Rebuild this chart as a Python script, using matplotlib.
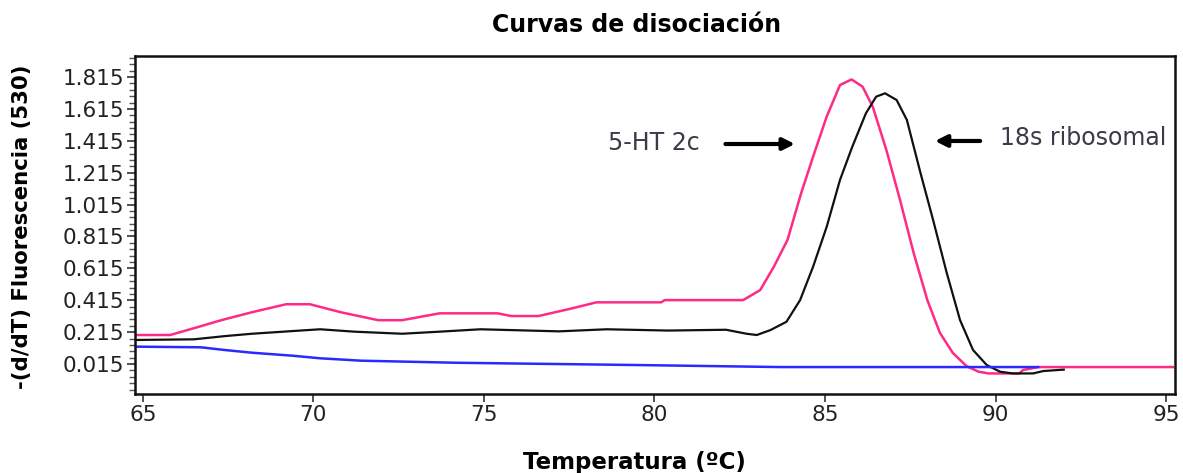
import matplotlib
matplotlib.use("Agg")
import matplotlib.pyplot as plt
from matplotlib.ticker import FixedLocator, MultipleLocator

# values
pink_t = [64.8, 65.8, 66.5, 67.3, 68.2, 69.2, 69.9, 70.8, 71.9, 72.6, 73.7, 75.4,
          75.8, 76.6, 77.5, 78.3, 80.2, 80.3, 82.6, 83.1, 83.5, 83.9, 84.3, 84.65,
          85.05, 85.44, 85.78, 86.1, 86.4, 86.8, 87.2, 87.6, 88.0, 88.37, 88.75,
          89.15, 89.5, 89.8, 90.7, 90.8, 91.25, 95.2]
pink_v = [0.197, 0.197, 0.24, 0.29, 0.34, 0.39, 0.39, 0.34, 0.29, 0.29, 0.333, 0.333,
          0.316, 0.316, 0.36, 0.402, 0.402, 0.416, 0.416, 0.479, 0.625, 0.793, 1.086,
          1.315, 1.567, 1.765, 1.80, 1.755, 1.629, 1.357, 1.044, 0.711, 0.416, 0.21,
          0.084, 0.002, -0.033, -0.044, -0.044, -0.023, -0.004, -0.004]

black_t = [64.8, 66.5, 67.4, 68.2, 69.4, 70.2, 71.2, 72.6, 73.7, 74.9, 77.2, 78.6,
           80.4, 82.1, 82.7, 83.0, 83.4, 83.87, 84.27, 84.65, 85.05, 85.44, 85.8,
           86.2, 86.5, 86.76, 87.1, 87.4, 87.8, 88.17, 88.57, 88.96, 89.34, 89.74,
           90.13, 90.5, 91.1, 91.4, 92.0]
black_v = [0.166, 0.17, 0.19, 0.205, 0.222, 0.233, 0.218, 0.205, 0.218, 0.233, 0.22,
           0.233, 0.225, 0.23, 0.205, 0.197, 0.228, 0.28, 0.416, 0.625, 0.876, 1.17,
           1.378, 1.588, 1.692, 1.713, 1.671, 1.546, 1.213, 0.918, 0.586, 0.29, 0.103,
           0.009, -0.033, -0.044, -0.044, -0.029, -0.02]

blue_t = [64.8, 66.7, 67.4, 68.2, 69.4, 70.2, 71.4, 74.2, 79.4, 83.7, 91.25]
blue_v = [0.124, 0.12, 0.103, 0.086, 0.067, 0.051, 0.036, 0.023, 0.009, -0.004, -0.004]

x_ticks = [65, 70, 75, 80, 85, 90, 95]
y_ticks = [0.015, 0.215, 0.415, 0.615, 0.815, 1.015, 1.215, 1.415, 1.615, 1.815]

plt.rcParams["font.family"] = ["DejaVu Sans"]

fig = plt.figure(figsize=(11.83, 4.73), dpi=100)
ax = fig.add_axes([0.1141, 0.167, 0.8791, 0.7146])

ax.plot(pink_t, pink_v, color="#ff2a85", lw=1.8)
ax.plot(black_t, black_v, color="#111111", lw=1.6)
ax.plot(blue_t, blue_v, color="#2a2aff", lw=1.8)

ax.set_xlim(64.77, 95.26)
ax.set_ylim(-0.173, 1.947)
ax.xaxis.set_major_locator(FixedLocator(x_ticks))
ax.set_xticklabels([str(t) for t in x_ticks])
ax.yaxis.set_major_locator(FixedLocator(y_ticks))
ax.set_yticklabels([f"{v:.3f}" for v in y_ticks])
ax.yaxis.set_minor_locator(MultipleLocator(0.04, offset=0.015))

ax.tick_params(axis="both", which="major", labelsize=15.5, length=6, width=1.2,
               color="#333333", pad=2, labelcolor="#222222")
ax.tick_params(axis="y", which="minor", length=4, width=1, color="#555555")
for s in ax.spines.values():
    s.set_linewidth(1.8)
    s.set_color("#111111")

# arrows and labels for the two products
arrow = dict(arrowstyle="-|>,head_length=0.7,head_width=0.35", color="black", lw=3)
ax.annotate("", xy=(84.2, 1.395), xytext=(82.0, 1.395), arrowprops=arrow)
ax.text(81.33, 1.40, "5-HT 2c", fontsize=17, color="#3a3a48",
        ha="right", va="center")
ax.annotate("", xy=(88.14, 1.414), xytext=(89.63, 1.414), arrowprops=arrow)
ax.text(90.13, 1.433, "18s ribosomal", fontsize=17, color="#3a3a48",
        ha="left", va="center")

fig.text(0.538, 0.947, "Curvas de disociación", ha="center", va="center",
         fontsize=17, fontweight="bold")
fig.text(0.5365, 0.023, "Temperatura (ºC)", ha="center", va="center",
         fontsize=16.5, fontweight="bold")
fig.text(0.019, 0.52, "-(d/dT) Fluorescencia (530)", ha="center", va="center",
         rotation=90, fontsize=15.3, fontweight="bold")

fig.savefig("out.png", dpi=100)
